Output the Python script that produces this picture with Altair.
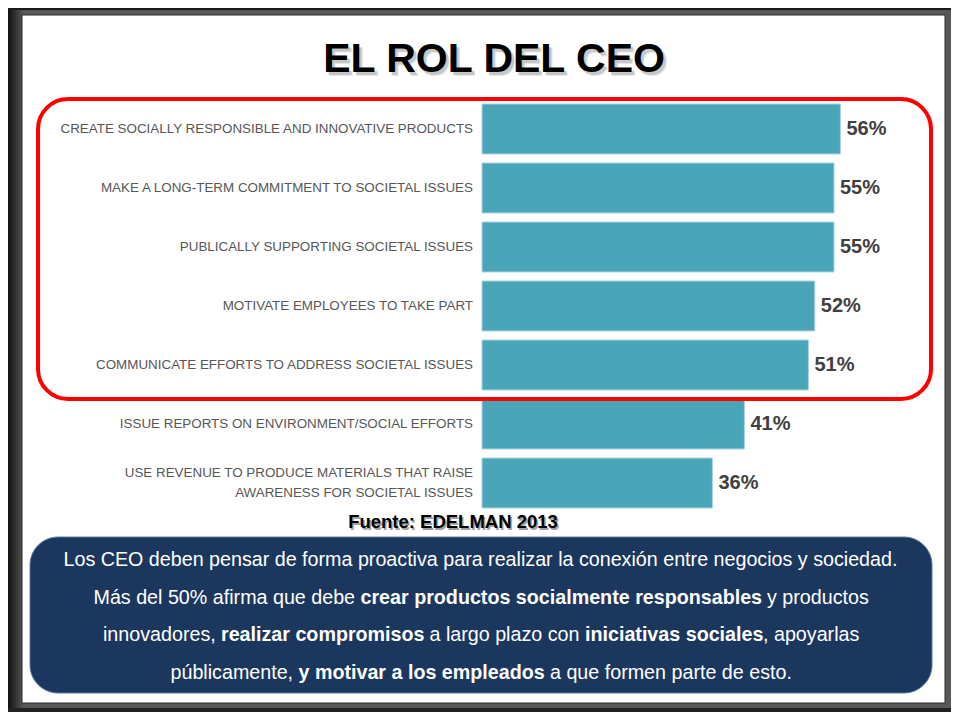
import altair as alt
import pandas as pd

# ---------------- data ----------------
categories = [
    "CREATE SOCIALLY RESPONSIBLE AND INNOVATIVE PRODUCTS",
    "MAKE A LONG-TERM COMMITMENT TO SOCIETAL ISSUES",
    "PUBLICALLY SUPPORTING SOCIETAL ISSUES",
    "MOTIVATE EMPLOYEES TO TAKE PART",
    "COMMUNICATE EFFORTS TO ADDRESS SOCIETAL ISSUES",
    "ISSUE REPORTS ON ENVIRONMENT/SOCIAL EFFORTS",
    "USE REVENUE TO PRODUCE MATERIALS THAT RAISE\nAWARENESS FOR SOCIETAL ISSUES",
]
values = [56, 55, 55, 52, 51, 41, 36]
value_labels = ["56%", "55%", "55%", "52%", "51%", "41%", "36%"]

title_text = "EL ROL DEL CEO"
source_text = "Fuente: EDELMAN 2013"

# summary text: (segment, is_bold) per line
summary_segments = [
    [("Los CEO deben pensar de forma proactiva para realizar la conexión entre negocios y sociedad.", False)],
    [("Más del 50% afirma que debe", False),
     ("crear productos socialmente responsables", True),
     ("y productos", False)],
    [("innovadores,", False),
     ("realizar compromisos", True),
     ("a largo plazo con", False),
     ("iniciativas sociales", True),
     (", apoyarlas", False)],
    [("públicamente,", False),
     ("y motivar a los empleados", True),
     ("a que formen parte de esto.", False)],
]

# ---------------- layout (chart pixel coords) ----------------
W, H = 943, 704
seg_x = [
    [55.5],
    [85.5, 352.5, 759],
    [95, 213, 421.5, 577, 755],
    [162.5, 290.5, 542],
]
line_y = [552, 590, 627, 665]

FONT = "Liberation Sans"
one = pd.DataFrame({"d": [0]})


def box(x1, x2, y1, y2, **kw):
    return alt.Chart(one).mark_rect(**kw).encode(
        x=alt.value(x1), x2=alt.value(x2), y=alt.value(y1), y2=alt.value(y2)
    )


layers = []

# frame
layers.append(box(0, W, 0, H, fill="#585858"))
frame_shades = ["#141414", "#1c1c1c", "#262626", "#303030", "#3a3a3a",
                "#434343", "#4c4c4c", "#545454"]
for i, c in enumerate(frame_shades):
    layers.append(box(i * 2, i * 2 + 2, 0, H, fill=c))
layers.append(box(0, W, 0, 2, fill="#1a1a1a"))
layers.append(box(0, W, H - 4, H, fill="#222222"))
layers.append(box(14, 937, 7, 695, fill="white", stroke="#2a2a2a", strokeWidth=1))

# title with soft shadow
for off, op in [(3.5, 0.18), (2.5, 0.3)]:
    layers.append(alt.Chart(one).mark_text(
        text=title_text, font=FONT, fontSize=41, fontWeight="bold",
        color="#808080", opacity=op, align="center", baseline="alphabetic",
        dx=off, dy=off).encode(x=alt.value(486), y=alt.value(64)))
layers.append(alt.Chart(one).mark_text(
    text=title_text, font=FONT, fontSize=41, fontWeight="bold",
    color="#000000", align="center", baseline="alphabetic").encode(
    x=alt.value(486), y=alt.value(64)))

# bars
df = pd.DataFrame({"category": categories, "value": values,
                   "label": value_labels, "zero": [0] * len(values)})
xscale = alt.Scale(domain=[0, 60], range=[474, 858])
yenc = alt.Y("category:N", sort=categories,
             scale=alt.Scale(range=[96, 500], paddingInner=0.153, paddingOuter=0),
             axis=None)

bars = alt.Chart(df).mark_bar(color="#4aa5b9", stroke="#a9d5df", strokeWidth=1).encode(
    x=alt.X("value:Q", scale=xscale, axis=None), y=yenc)
layers.append(bars)

multi = "indexof(datum.category, '\\n') >= 0"
single = "indexof(datum.category, '\\n') < 0"

cat_labels = alt.Chart(df).transform_filter(single).mark_text(
    align="right", baseline="middle", dx=-9, font=FONT, fontSize=13.4,
    color="#575757").encode(
    x=alt.X("zero:Q", scale=xscale, axis=None), y=yenc, text="category:N")
layers.append(cat_labels)

cat_labels2 = alt.Chart(df).transform_filter(multi).mark_text(
    align="right", baseline="middle", dx=-9, dy=-10, font=FONT, fontSize=13.4,
    color="#575757", lineBreak="\n", lineHeight=20).encode(
    x=alt.X("zero:Q", scale=xscale, axis=None), y=yenc, text="category:N")
layers.append(cat_labels2)

val_labels = alt.Chart(df).mark_text(
    align="left", baseline="middle", dx=6, font=FONT, fontSize=20,
    fontWeight="bold", color="#404040").encode(
    x=alt.X("value:Q", scale=xscale, axis=None), y=yenc, text="label:N")
layers.append(val_labels)

# red highlight box
layers.append(box(30, 923, 91, 391, fill="white", fillOpacity=0, stroke="#ff0000",
                  strokeWidth=4, cornerRadius=30))

# source
layers.append(alt.Chart(one).mark_text(
    text=source_text, font=FONT, fontSize=18.5, fontWeight="bold",
    color="#a0a0a0", align="center", baseline="middle", dx=1.5, dy=1.5).encode(
    x=alt.value(445), y=alt.value(514)))
layers.append(alt.Chart(one).mark_text(
    text=source_text, font=FONT, fontSize=18.5, fontWeight="bold",
    color="#000000", align="center", baseline="middle").encode(
    x=alt.value(445), y=alt.value(514)))

# summary box
layers.append(box(22, 924, 529, 685, fill="#1b375e", stroke="#5d7aa0",
                  strokeWidth=1, cornerRadius=28))

for segs, xs, yy in zip(summary_segments, seg_x, line_y):
    for (txt, bold), xx in zip(segs, xs):
        layers.append(alt.Chart(one).mark_text(
            text=txt, font=FONT, fontSize=19.7,
            fontWeight="bold" if bold else "normal",
            color="white", align="left", baseline="middle").encode(
            x=alt.value(xx), y=alt.value(yy)))

chart = alt.layer(*layers).properties(
    width=W, height=H, padding=0,
    autosize=alt.AutoSizeParams(type="none"),
    background="white",
).configure_view(stroke=None)

chart.save("out.html", embed_options={"renderer": "svg", "actions": False})
